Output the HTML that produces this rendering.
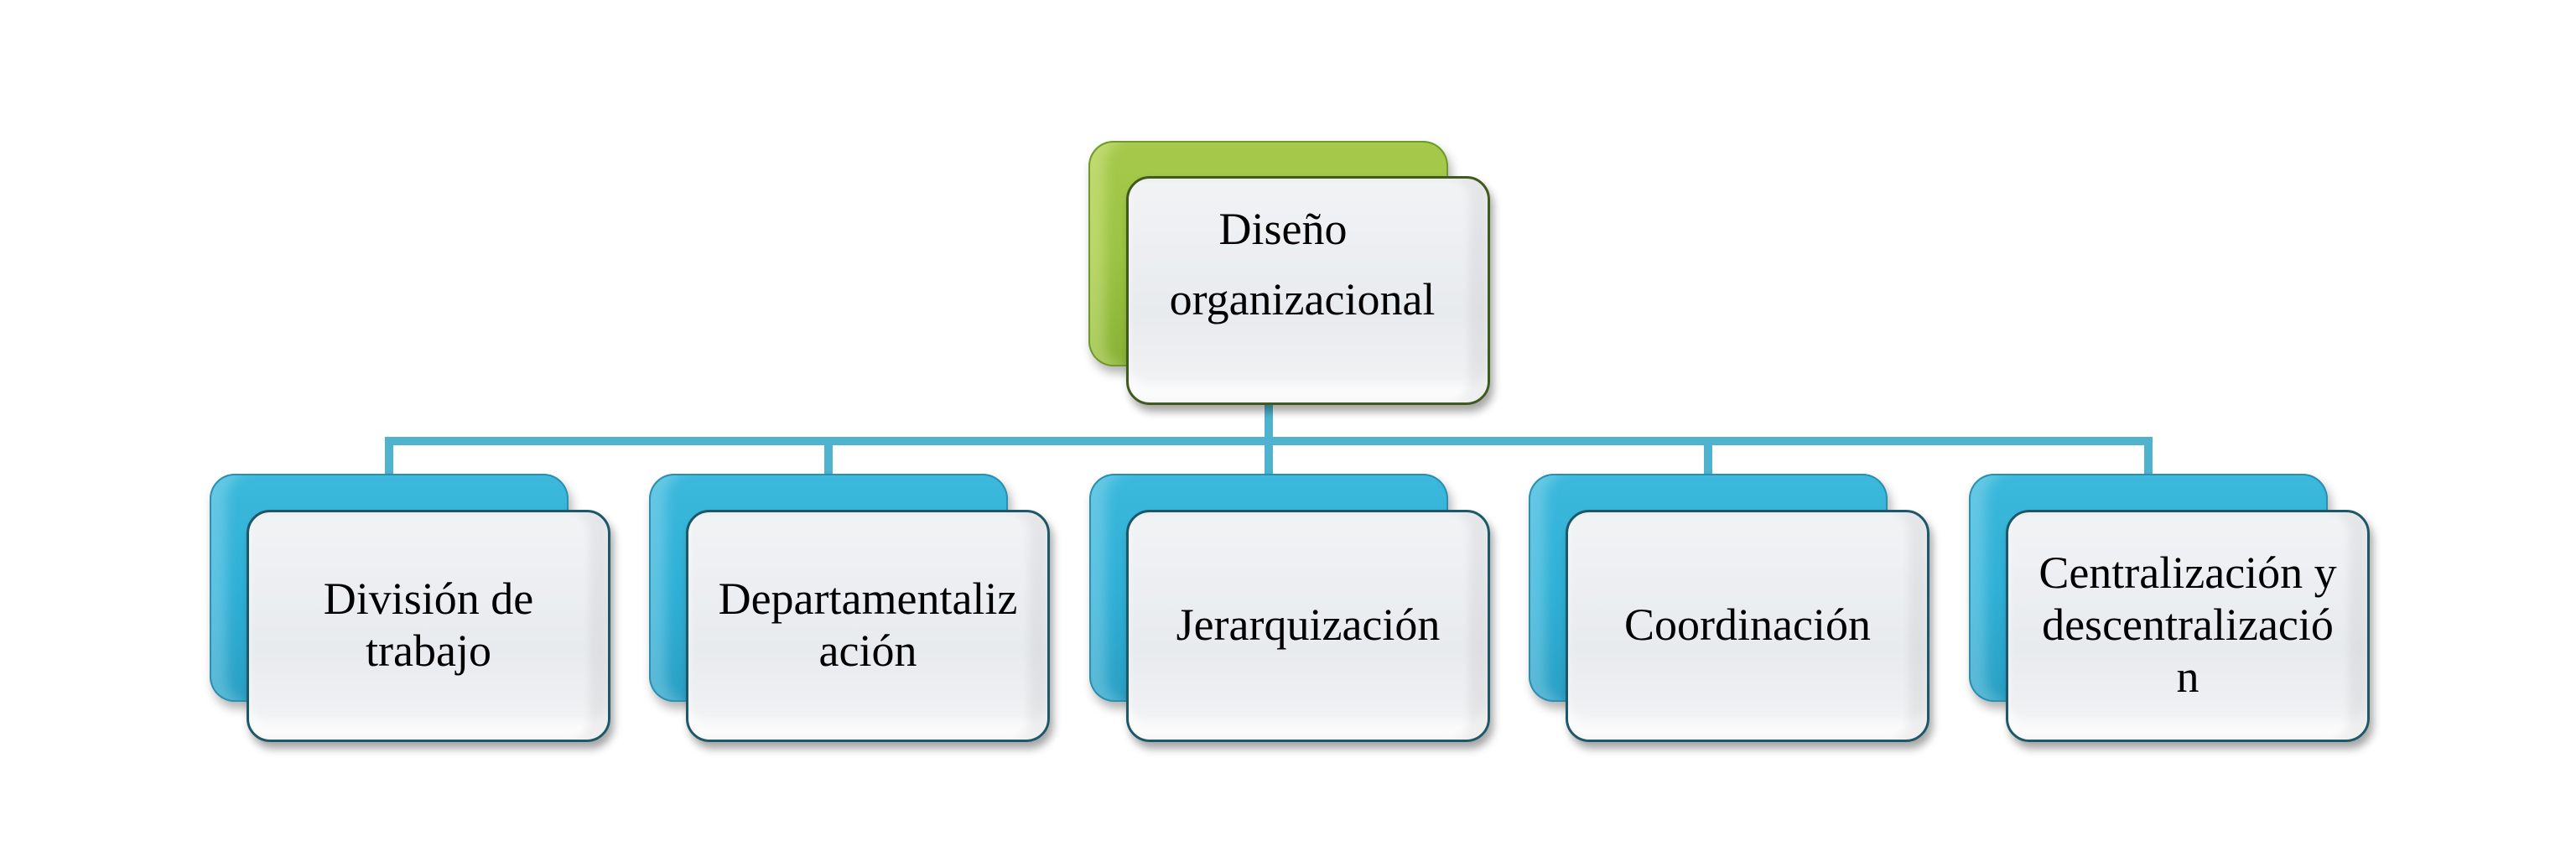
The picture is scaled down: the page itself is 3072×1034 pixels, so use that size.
<!DOCTYPE html>
<html><head><meta charset="utf-8"><style>
html,body{margin:0;padding:0;background:#fff;}
body{width:3072px;height:1034px;position:relative;overflow:hidden;font-family:"Liberation Serif",serif;}
.ln{position:absolute;background:#4fb3d0;}
.back{position:absolute;width:428px;height:272px;border-radius:30px;
 background:linear-gradient(180deg,#3cb9dc 0%,#2fb0d6 50%,#2a9fc4 100%);
 box-shadow:inset 0 0 0 2px #2a8fb0, inset 26px 0 14px -6px rgba(180,230,245,.35), 4px 8px 12px rgba(0,0,0,.3);}
.back.g{background:linear-gradient(180deg,#a6c94c 0%,#9cc443 50%,#87b236 100%);box-shadow:inset 0 0 0 2px #6f9a2a, inset 26px 0 14px -6px rgba(240,250,180,.35),4px 8px 12px rgba(0,0,0,.3);}
.front{position:absolute;width:434px;height:277px;box-sizing:border-box;border-radius:28px;border:3px solid #1e5868;
 background:linear-gradient(180deg,#f1f3f5 0%,#e8ebee 60%,#eef0f2 85%,#f7f7f7 100%);
 box-shadow:4px 8px 10px rgba(0,0,0,.35), inset -22px 0 10px rgba(0,0,0,.05), inset 0 -22px 10px rgba(255,255,255,.6);
 display:flex;align-items:center;justify-content:center;text-align:center;font-size:54px;line-height:62px;color:#000;padding-bottom:4px;}
.front.g{border-color:#3f5a1e;width:434px;height:273px;padding-bottom:0;}
</style></head><body>
<div class="ln" style="left:1508px;top:440px;width:10px;height:90px"></div>
<div class="ln" style="left:459px;top:521px;width:2108px;height:10px;border-radius:3px"></div>
<div class="ln" style="left:459px;top:521px;width:10px;height:46px"></div>
<div class="ln" style="left:983px;top:521px;width:10px;height:46px"></div>
<div class="ln" style="left:1508px;top:521px;width:10px;height:46px"></div>
<div class="ln" style="left:2032px;top:521px;width:10px;height:46px"></div>
<div class="ln" style="left:2557px;top:521px;width:10px;height:46px"></div>

<div class="back g" style="left:1298px;top:168px;width:429px;height:269px"></div>
<div class="front g" style="left:1343px;top:210px;display:block;padding-top:18px;line-height:84px;"><div style="margin-right:60px">Diseño</div><div style="margin-right:14px">organizacional</div></div>

<div class="back" style="left:250px;top:565px"></div>
<div class="front" style="left:294px;top:608px">División de<br>trabajo</div>

<div class="back" style="left:774px;top:565px"></div>
<div class="front" style="left:818px;top:608px">Departamentaliz<br>ación</div>

<div class="back" style="left:1299px;top:565px"></div>
<div class="front" style="left:1343px;top:608px">Jerarquización</div>

<div class="back" style="left:1823px;top:565px"></div>
<div class="front" style="left:1867px;top:608px">Coordinación</div>

<div class="back" style="left:2348px;top:565px"></div>
<div class="front" style="left:2392px;top:608px">Centralización y<br>descentralizació<br>n</div>
</body></html>
